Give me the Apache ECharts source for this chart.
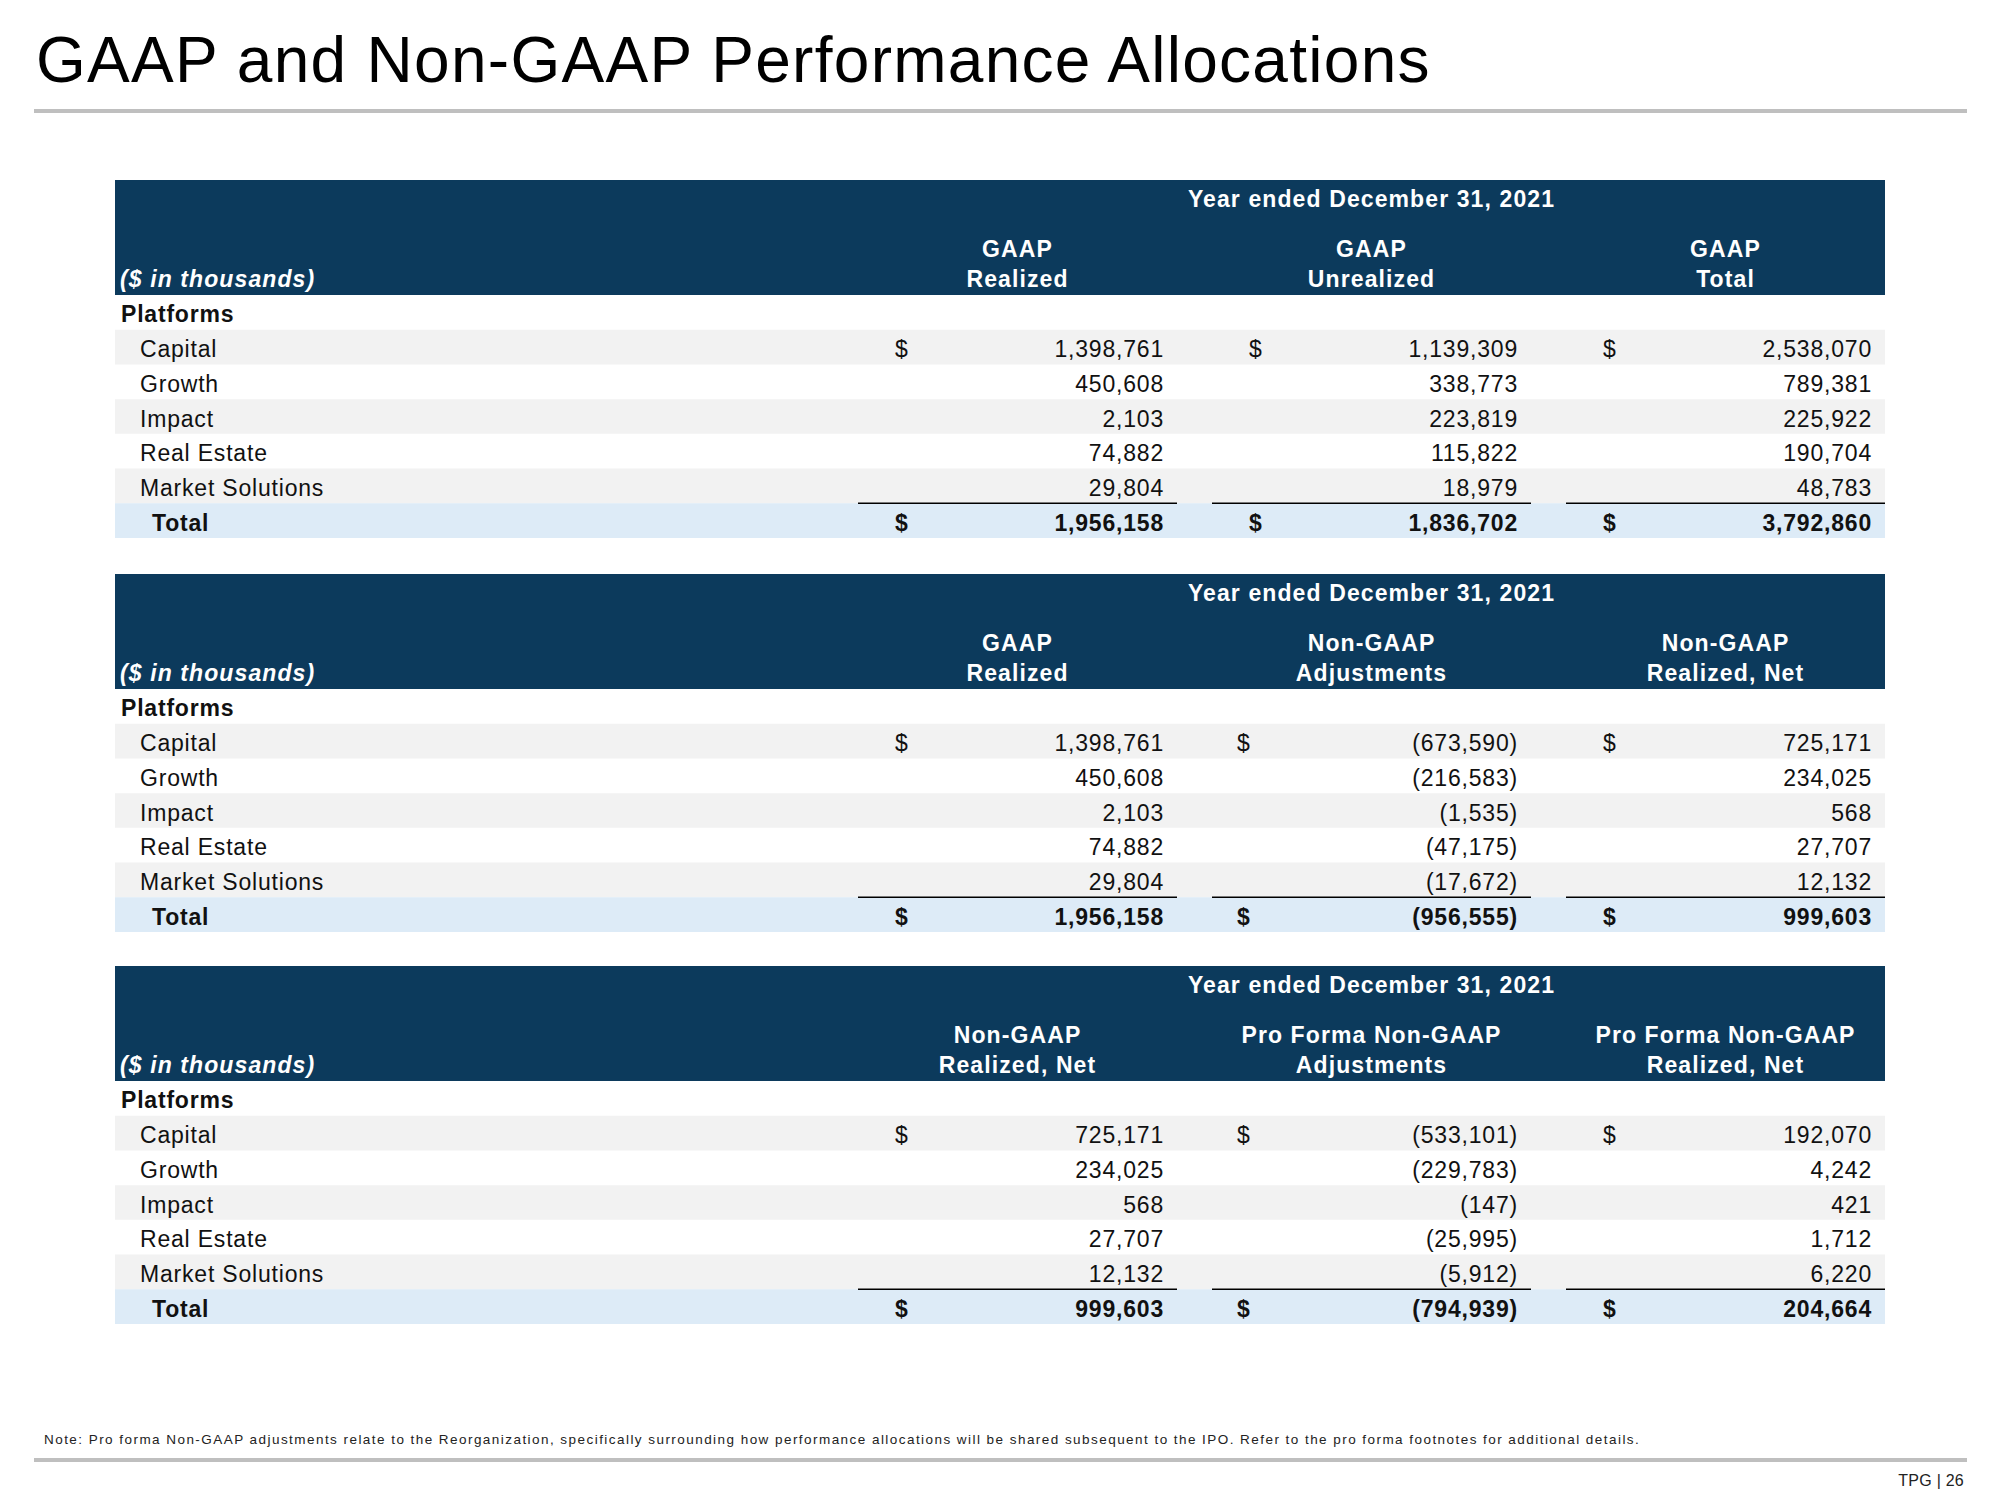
<!DOCTYPE html>
<html><head><meta charset="utf-8">
<script src="https://cdn.jsdelivr.net/npm/echarts@6/dist/echarts.min.js"></script>
<style>html,body{margin:0;padding:0;background:#fff;} #chart{width:2000px;height:1500px;}</style>
</head><body><div id="chart"></div>
<script>
// ---------------- data ----------------
const pageTitle = 'GAAP and Non-GAAP Performance Allocations';
const periodLabel = 'Year ended December 31, 2021';
const unitLabel = '($ in thousands)';
const sectionLabel = 'Platforms';
const totalLabel = 'Total';
const platforms = ['Capital', 'Growth', 'Impact', 'Real Estate', 'Market Solutions'];

const table1Headers = [['GAAP', 'Realized'], ['GAAP', 'Unrealized'], ['GAAP', 'Total']];
const table2Headers = [['GAAP', 'Realized'], ['Non-GAAP', 'Adjustments'], ['Non-GAAP', 'Realized, Net']];
const table3Headers = [['Non-GAAP', 'Realized, Net'], ['Pro Forma Non-GAAP', 'Adjustments'], ['Pro Forma Non-GAAP', 'Realized, Net']];

const gaapRealized = [1398761, 450608, 2103, 74882, 29804];
const gaapUnrealized = [1139309, 338773, 223819, 115822, 18979];
const gaapTotal = [2538070, 789381, 225922, 190704, 48783];
const nonGaapAdjustments = [-673590, -216583, -1535, -47175, -17672];
const nonGaapRealizedNet = [725171, 234025, 568, 27707, 12132];
const proFormaAdjustments = [-533101, -229783, -147, -25995, -5912];
const proFormaRealizedNet = [192070, 4242, 421, 1712, 6220];

const table1Totals = [1956158, 1836702, 3792860];
const table2Totals = [1956158, -956555, 999603];
const table3Totals = [999603, -794939, 204664];

const noteText = 'Note: Pro forma Non-GAAP adjustments relate to the Reorganization, specifically surrounding how performance allocations will be shared subsequent to the IPO. Refer to the pro forma footnotes for additional details.';
const pageLabel = 'TPG | 26';

// ---------------- styling / layout ----------------
const FAMILY = '"Liberation Sans", Arial, sans-serif';
const st = document.createElement('style');
st.textContent =
  '#chart text{letter-spacing:0.035em;}' +
  '#chart text[fill="#fff"]{letter-spacing:0.048em;}' +
  '#chart text[style*="64px"],#chart text[font-size="64"]{letter-spacing:0.02em;}' +
  '#chart text[style*="13.5px"],#chart text[font-size="13.5"]{letter-spacing:1.45px;}' +
  '#chart text[style*="16px"],#chart text[font-size="16"]{letter-spacing:0.015em;}';
document.head.appendChild(st);

const TEXT = '#111111';
const HEAD_BG = '#0c3a5c';
const STRIPE = '#f2f2f2';
const TOTAL_BG = '#ddebf7';
const RULE = '#bfbfbf';
const FS = 23;

const TABLE_LEFT = 115, TABLE_WIDTH = 1770, HEADER_H = 115, BODY_H = 243;
const GRID_TOPS = [295, 689, 1081];
const DOLLAR_OFFSETS = [[72, 72, 72], [72, 60, 72], [72, 60, 72]];

const rowNames = [sectionLabel].concat(platforms, [totalLabel]);
const colNames = ['label', 'label-wide', 'col1', 'col2', 'col3'];

const tables = [
  { headers: table1Headers, columns: [gaapRealized, gaapUnrealized, gaapTotal], totals: table1Totals },
  { headers: table2Headers, columns: [gaapRealized, nonGaapAdjustments, nonGaapRealizedNet], totals: table2Totals },
  { headers: table3Headers, columns: [nonGaapRealizedNet, proFormaAdjustments, proFormaRealizedNet], totals: table3Totals }
];

function fmt(v) {
  const s = Math.abs(v).toLocaleString('en-US');
  return v < 0 ? '(' + s + ')' : s;
}
function txt(x, y, text, opt) {
  opt = opt || {};
  const align = opt.align || 'left';
  return {
    type: 'text', x: x, y: y,
    style: {
      text: text, fill: opt.fill || TEXT,
      fontSize: opt.size || FS, fontFamily: FAMILY,
      fontWeight: opt.weight || 'normal', fontStyle: opt.italic ? 'italic' : 'normal',
      align: align, textAlign: align, verticalAlign: 'middle', textVerticalAlign: 'middle'
    }
  };
}

function bgRenderer(params, api) {
  const r = api.value(1);
  const p = api.coord([0, r]);
  const h = api.size([0, 1])[1];
  const cs = params.coordSys;
  let fill = null;
  if (r === rowNames.length - 1) fill = TOTAL_BG;
  else if (r % 2 === 1) fill = STRIPE;
  if (!fill) return null;
  return { type: 'rect', shape: { x: cs.x, y: p[1] - h / 2, width: cs.width, height: h }, style: { fill: fill } };
}

function headerRenderer(t) {
  return function (params, api) {
    const cs = params.coordSys;
    const top = cs.y - HEADER_H;
    const children = [{ type: 'rect', shape: { x: cs.x, y: top, width: cs.width, height: HEADER_H }, style: { fill: HEAD_BG } }];
    const mid = api.coord([3, 0])[0] + 17.5;
    children.push(txt(mid, top + 19, periodLabel, { align: 'center', fill: '#fff', weight: 'bold' }));
    tables[t].headers.forEach(function (h, i) {
      const cx = api.coord([i + 2, 0])[0] + 17.5;
      children.push(txt(cx, top + 68.5, h[0], { align: 'center', fill: '#fff', weight: 'bold' }));
      children.push(txt(cx, top + 98.5, h[1], { align: 'center', fill: '#fff', weight: 'bold' }));
    });
    children.push(txt(cs.x + 5, top + 98.5, unitLabel, { fill: '#fff', weight: 'bold', italic: true }));
    return { type: 'group', children: children };
  };
}

function labelRenderer(params, api) {
  const r = api.value(1);
  const p = api.coord([0, r]);
  const cs = params.coordSys;
  const last = rowNames.length - 1;
  let x = cs.x + 6, weight = 'normal';
  if (r === 0) { weight = 'bold'; }
  else if (r === last) { x = cs.x + 37; weight = 'bold'; }
  else { x = cs.x + 25; }
  return txt(x, p[1] + 2, rowNames[r], { weight: weight });
}

function cellRenderer(t) {
  return function (params, api) {
    const col = api.value(0), row = api.value(1), v = api.value(2);
    const p = api.coord([col, row]);
    const bw = api.size([1, 0])[0];
    const bh = api.size([0, 1])[1];
    const left = p[0] - bw / 2, right = p[0] + bw / 2;
    const isTotal = row === rowNames.length - 1;
    const w = isTotal ? 'bold' : 'normal';
    const children = [txt(right - 13, p[1] + 2, fmt(v), { align: 'right', weight: w })];
    if (row === 1 || isTotal) children.push(txt(left + DOLLAR_OFFSETS[t][col - 2], p[1] + 2, '$', { weight: w }));
    if (isTotal) children.push({ type: 'line', shape: { x1: left + 35, y1: p[1] - bh / 2, x2: right, y2: p[1] - bh / 2 }, style: { stroke: '#000', lineWidth: 1.5 } });
    return { type: 'group', children: children };
  };
}

const grids = [], xAxes = [], yAxes = [], series = [];
tables.forEach(function (tb, t) {
  grids.push({ left: TABLE_LEFT, top: GRID_TOPS[t], width: TABLE_WIDTH, height: BODY_H, containLabel: false });
  xAxes.push({ type: 'category', gridIndex: t, data: colNames, show: false });
  yAxes.push({ type: 'category', gridIndex: t, data: rowNames, inverse: true, show: false });
  series.push({ type: 'custom', xAxisIndex: t, yAxisIndex: t, z: 1, silent: true,
    data: rowNames.map(function (_, i) { return [0, i]; }), renderItem: bgRenderer });
  series.push({ type: 'custom', xAxisIndex: t, yAxisIndex: t, z: 2, silent: true,
    data: [[0, 0]], renderItem: headerRenderer(t), clip: false });
  series.push({ type: 'custom', xAxisIndex: t, yAxisIndex: t, z: 3, silent: true,
    data: rowNames.map(function (_, i) { return [0, i]; }), renderItem: labelRenderer });
  const cells = [];
  tb.columns.forEach(function (vals, c) {
    vals.forEach(function (v, r) { cells.push([c + 2, r + 1, v]); });
    cells.push([c + 2, rowNames.length - 1, tb.totals[c]]);
  });
  series.push({ type: 'custom', xAxisIndex: t, yAxisIndex: t, z: 4, silent: true,
    data: cells, renderItem: cellRenderer(t) });
});

const chart = echarts.init(document.getElementById('chart'), null, { renderer: 'svg', width: 2000, height: 1500 });
chart.setOption({
  backgroundColor: '#ffffff',
  animation: false,
  title: {
    text: pageTitle, left: 36, top: 28, padding: 0,
    textStyle: { fontFamily: FAMILY, fontSize: 64, fontWeight: 'normal', color: '#000' }
  },
  grid: grids, xAxis: xAxes, yAxis: yAxes, series: series,
  graphic: [
    { type: 'rect', shape: { x: 34, y: 109, width: 1933, height: 4 }, style: { fill: RULE }, silent: true },
    { type: 'rect', shape: { x: 34, y: 1458, width: 1933, height: 4 }, style: { fill: RULE }, silent: true },
    Object.assign(txt(44, 1439, noteText, { size: 13.5, fill: '#222' }), { silent: true }),
    Object.assign(txt(1964, 1480, pageLabel, { size: 16, align: 'right', fill: '#222' }), { silent: true })
  ]
});
</script></body></html>
